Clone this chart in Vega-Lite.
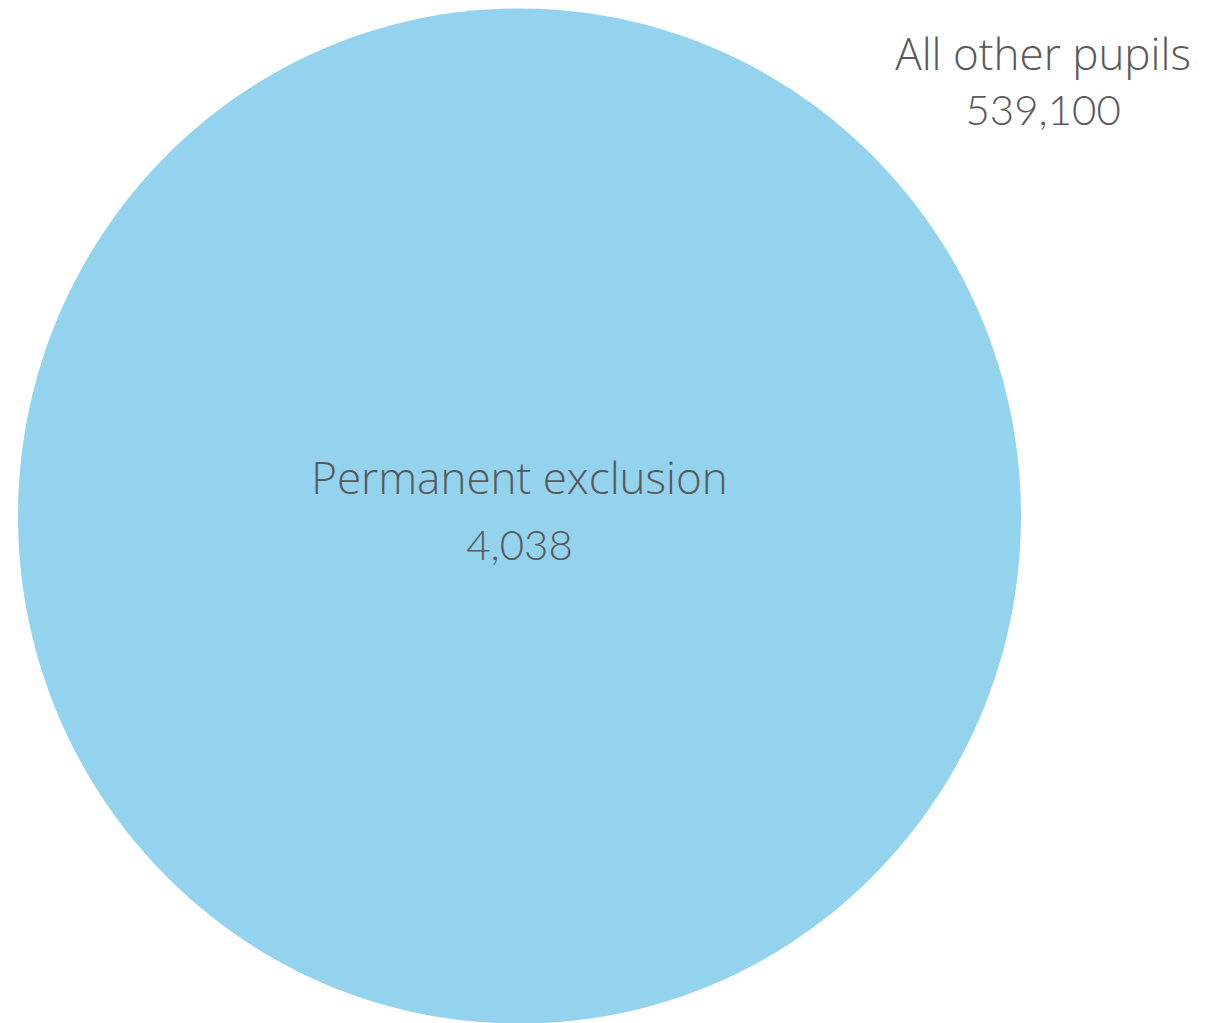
{
  "$schema": "https://vega.github.io/schema/vega-lite/v6.json",
  "width": 1207,
  "height": 1023,
  "autosize": {"type": "fit", "contains": "padding"},
  "padding": 0,
  "background": "white",
  "config": {"view": {"stroke": null}},
  "data": {
    "values": [
      {"group": "Permanent exclusion", "pupils": 4038},
      {"group": "All other pupils", "pupils": 539100}
    ]
  },
  "layer": [
    {
      "transform": [{"filter": "datum.group === 'Permanent exclusion'"}],
      "mark": {
        "type": "point",
        "filled": true,
        "opacity": 1,
        "color": "#94D3EE",
        "strokeWidth": 0,
        "shape": "M-1,0A1,1.012,0,1,0,1,0A1,1.012,0,1,0,-1,0Z",
        "size": 1006009,
        "x": {"expr": "width * 0.4304"},
        "y": {"expr": "height * 0.5054"}
      },
      "encoding": {}
    },
    {
      "transform": [{"filter": "datum.group === 'Permanent exclusion'"}],
      "mark": {
        "type": "text",
        "font": "Open Sans",
        "fontWeight": 300,
        "fontSize": 44,
        "color": "#58595B",
        "align": "center",
        "baseline": "alphabetic",
        "x": {"expr": "width * 0.4304"},
        "y": {"expr": "height * 0.4839"}
      },
      "encoding": {"text": {"field": "group"}}
    },
    {
      "transform": [{"filter": "datum.group === 'Permanent exclusion'"}],
      "mark": {
        "type": "text",
        "font": "Lato",
        "fontWeight": 300,
        "fontSize": 42,
        "color": "#58595B",
        "align": "center",
        "baseline": "alphabetic",
        "x": {"expr": "width * 0.4304"},
        "y": {"expr": "height * 0.5484"}
      },
      "encoding": {"text": {"field": "pupils", "type": "quantitative", "format": ","}}
    },
    {
      "transform": [{"filter": "datum.group === 'All other pupils'"}],
      "mark": {
        "type": "text",
        "font": "Open Sans",
        "fontWeight": 300,
        "fontSize": 44,
        "color": "#58595B",
        "align": "center",
        "baseline": "alphabetic",
        "x": {"expr": "width * 0.8642"},
        "y": {"expr": "height * 0.0689"}
      },
      "encoding": {"text": {"field": "group"}}
    },
    {
      "transform": [{"filter": "datum.group === 'All other pupils'"}],
      "mark": {
        "type": "text",
        "font": "Lato",
        "fontWeight": 300,
        "fontSize": 42,
        "color": "#58595B",
        "align": "center",
        "baseline": "alphabetic",
        "x": {"expr": "width * 0.8642"},
        "y": {"expr": "height * 0.1227"}
      },
      "encoding": {"text": {"field": "pupils", "type": "quantitative", "format": ","}}
    }
  ]
}
